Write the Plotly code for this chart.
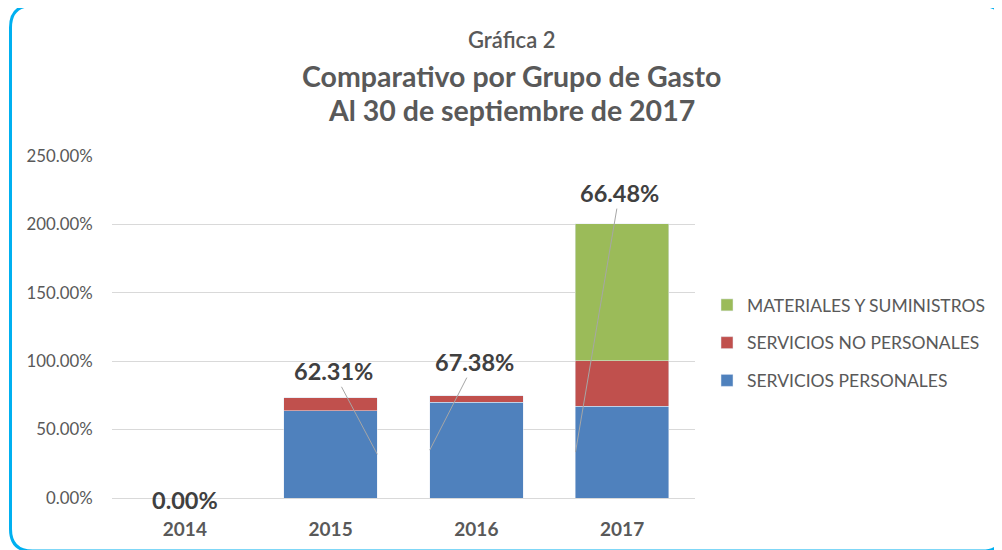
import plotly.graph_objects as go

# ---- data ----
years = ["2014", "2015", "2016", "2017"]
servicios_personales = [0.0, 63.9, 70.0, 67.1]
servicios_no_personales = [0.0, 9.5, 4.6, 33.3]
materiales_suministros = [0.0, 0.0, 0.0, 100.2]
data_labels = ["0.00%", "62.31%", "67.38%", "66.48%"]
y_ticks = [0, 50, 100, 150, 200, 250]
y_tick_labels = ["0.00%", "50.00%", "100.00%", "150.00%", "200.00%", "250.00%"]

# ---- layout constants (page pixel coordinates) ----
OFF = 8                      # default page body margin
W, H = 1002 - OFF, 550 - OFF
L, R, T, B = 112, 695, 156, 498
FONT = "Lato"
GRAY = "#595959"
DARK = "#404040"
BAR_W = 0.64


def px_x(p):
    return (p - L) / (R - L)


def px_y(p):
    return (B - p) / (B - T)


fig = go.Figure()
fig.add_trace(go.Bar(name="SERVICIOS PERSONALES", x=years, y=servicios_personales,
                     marker_color="#4F81BD", width=BAR_W, legendgroup="a", legendrank=3))
fig.add_trace(go.Bar(name="SERVICIOS NO PERSONALES", x=years, y=servicios_no_personales,
                     marker_color="#C0504D", width=BAR_W, legendgroup="b", legendrank=2))
fig.add_trace(go.Bar(name="MATERIALES Y SUMINISTROS", x=years, y=materiales_suministros,
                     marker_color="#9BBB59", width=BAR_W, legendgroup="c", legendrank=1))

annotations = []
# titles
for text, ypx, size, weight in [("Gráfica 2", 39, 22, 600),
                                ("Comparativo por Grupo de Gasto", 76, 28.5, "bold"),
                                ("Al 30 de septiembre de 2017", 110, 28.5, "bold")]:
    annotations.append(dict(text=text, xref="paper", yref="paper", x=px_x(511), y=px_y(ypx),
                            xanchor="center", yanchor="middle", showarrow=False,
                            font=dict(family=FONT, size=size, color=GRAY, weight=weight)))

# data labels with leader lines
offsets = [None, (-44, -83, 1), (45, -88, -1), (44, -259, -1)]
for i, lab in enumerate(data_labels):
    if offsets[i] is None:
        annotations.append(dict(text=lab, x=i, y=servicios_personales[i], xref="x", yref="y",
                                showarrow=False, yshift=-2,
                                font=dict(family=FONT, size=23.5, color=DARK, weight="bold")))
    else:
        ax, ay, side = offsets[i]
        annotations.append(dict(text=lab, x=i + side * BAR_W / 2,
                                y=servicios_personales[i] / 2, xref="x", yref="y",
                                showarrow=True, arrowhead=0, arrowwidth=1, arrowcolor="#A6A6A6",
                                ax=ax, ay=ay, standoff=0,
                                font=dict(family=FONT, size=23.5, color=DARK, weight="bold")))

# rounded border
x0, y0, x1, y1, r = 10.5, 5.5, 1004, 551, 22
path = (f"M {px_x(x0)},{px_y(y0 + r)} Q {px_x(x0)},{px_y(y0)} {px_x(x0 + r)},{px_y(y0)} "
        f"L {px_x(x1 - r)},{px_y(y0)} Q {px_x(x1)},{px_y(y0)} {px_x(x1)},{px_y(y0 + r)} "
        f"L {px_x(x1)},{px_y(y1 - r)} Q {px_x(x1)},{px_y(y1)} {px_x(x1 - r)},{px_y(y1)} "
        f"L {px_x(x0 + r)},{px_y(y1)} Q {px_x(x0)},{px_y(y1)} {px_x(x0)},{px_y(y1 - r)} Z")
shapes = [dict(type="path", path=path, xref="paper", yref="paper",
               line=dict(color="#00B0F0", width=3), layer="below")]

fig.update_layout(
    width=W, height=H,
    margin=dict(l=L - OFF, r=W - (R - OFF), t=T - OFF, b=H - (B - OFF), autoexpand=False),
    barmode="stack",
    paper_bgcolor="white", plot_bgcolor="white",
    font=dict(family=FONT, color=GRAY),
    showlegend=True,
    legend=dict(x=px_x(707), y=px_y(287), xanchor="left", yanchor="top",
                traceorder="grouped", tracegroupgap=12,
                font=dict(family=FONT, size=17.5, color=GRAY), itemclick=False),
    annotations=annotations,
    shapes=shapes,
    xaxis=dict(type="category", showgrid=False, showline=False, zeroline=False,
               tickfont=dict(family=FONT, size=19, color=GRAY, weight="bold"),
               ticks="outside", ticklen=14, tickcolor="rgba(0,0,0,0)"),
    yaxis=dict(range=[0, 250], tickvals=y_ticks, ticktext=y_tick_labels,
               showgrid=True, gridcolor="#D9D9D9", gridwidth=1, zeroline=True,
               zerolinecolor="#D9D9D9", zerolinewidth=1, showline=False,
               tickfont=dict(family=FONT, size=16.8, color=GRAY),
               ticks="outside", ticklen=15, tickcolor="rgba(0,0,0,0)"),
    bargap=0.36,
)

fig.write_html("out.html")
